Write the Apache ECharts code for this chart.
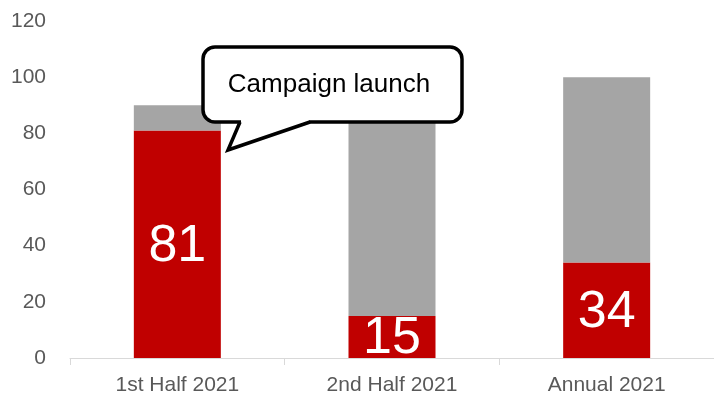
<!DOCTYPE html>
<html>
<head>
<meta charset="utf-8">
<title>Campaign</title>
<script src="https://cdn.jsdelivr.net/npm/echarts@6/dist/echarts.min.js"></script>
<style>
  html, body { margin: 0; padding: 0; background: #fff; }
  #main { width: 714px; height: 400px; }
</style>
</head>
<body>
<div id="main"></div>
<script type="text/javascript">
// --- data ---
var categories = ['1st Half 2021', '2nd Half 2021', 'Annual 2021'];
var redValues = [81, 15, 34];
var totals = [90, 90, 100];
var greyValues = totals.map(function (t, i) { return t - redValues[i]; });
var yTicks = { min: 0, max: 120, step: 20 };
var calloutText = 'Campaign launch';

var myChart = echarts.init(document.getElementById('main'), null, { renderer: 'canvas' });

myChart.setOption({
    animation: false,
    textStyle: { fontFamily: '"Liberation Sans", Arial, sans-serif' },
    grid: { left: 70, right: -2, top: 21, bottom: 42 },
    xAxis: {
        type: 'category',
        data: categories,
        axisLine: { lineStyle: { color: '#D9D9D9', width: 1 } },
        axisTick: { show: true, length: 7, lineStyle: { color: '#D9D9D9' } },
        axisLabel: { color: '#595959', fontSize: 21, margin: 17 }
    },
    yAxis: {
        type: 'value',
        min: yTicks.min,
        max: yTicks.max,
        interval: yTicks.step,
        splitLine: { show: false },
        axisLine: { show: false },
        axisTick: { show: false },
        axisLabel: { color: '#595959', fontSize: 21, margin: 24 }
    },
    series: [{
        name: 'red',
        type: 'bar',
        stack: 'tot',
        barWidth: 87,
        data: redValues,
        itemStyle: { color: '#C00000' },
        label: {
            show: true,
            position: 'inside',
            offset: [0, 2],
            color: '#fff',
            fontSize: 52,
            fontFamily: '"Liberation Sans", Arial, sans-serif'
        }
    }, {
        name: 'grey',
        type: 'bar',
        stack: 'tot',
        barWidth: 87,
        data: greyValues,
        itemStyle: { color: '#A5A5A5' }
    }],
    // callout bubble: rounded box + tail
    graphic: [{
        type: 'rect',
        z: 100,
        shape: { x: 203, y: 47, width: 259, height: 75, r: 12 },
        style: { fill: '#fff', stroke: '#000', lineWidth: 3.5 }
    }, {
        type: 'polygon',
        z: 101,
        shape: { points: [[241, 119], [241, 122], [228, 150], [309, 122], [309, 119]] },
        style: { fill: '#fff', stroke: null }
    }, {
        type: 'polyline',
        z: 102,
        shape: { points: [[240, 122], [228, 150], [310, 122]] },
        style: { fill: null, stroke: '#000', lineWidth: 3.5, lineJoin: 'miter' }
    }, {
        type: 'text',
        z: 103,
        x: 329,
        y: 85,
        style: {
            text: calloutText,
            fill: '#000',
            fontSize: 26,
            fontFamily: '"Liberation Sans", Arial, sans-serif',
            align: 'center',
            verticalAlign: 'middle'
        }
    }]
});
</script>
</body>
</html>
